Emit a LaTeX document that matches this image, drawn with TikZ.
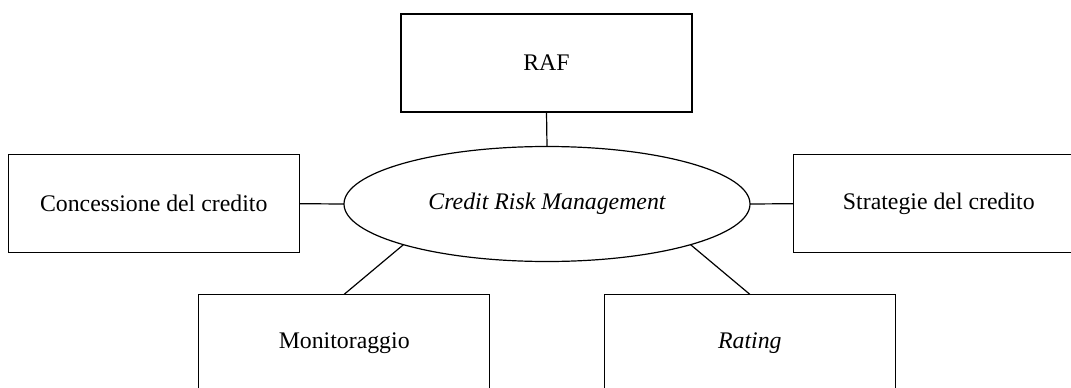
\documentclass[tikz,border=0pt]{standalone}
\usepackage{fontspec}
\setmainfont{Liberation Serif}
\usetikzlibrary{shapes.geometric}
\tikzset{
  box/.style={draw, line width=1.2pt, minimum width=291pt, minimum height=98pt,
    inner sep=0pt, outer sep=0pt, font=\fontsize{23.8}{28}\selectfont},
  hub/.style={draw, ellipse, line width=1.2pt, minimum width=406pt, minimum height=115pt,
    inner sep=0pt, outer sep=0pt, font=\fontsize{23.8}{28}\selectfont\itshape},
  link/.style={line width=1.2pt}
}
\begin{document}
\begin{tikzpicture}[x=1pt, y=-1pt]
  \useasboundingbox (0,0) rectangle (1071,388);
  \clip (0,0) rectangle (1071,388);
  \node[hub] (crm) at (547,204) {Credit Risk Management};
  \node[box] (raf) at (546.5,63) {RAF};
  \node[box] (con) at (153.7,203.7) {Concessione del credito};
  \node[box] (str) at (938.8,203.7) {Strategie del credito};
  \node[box] (mon) at (344.2,343.3) {Monitoraggio};
  \node[box] (rat) at (749.8,343.3) {\itshape Rating};
  \draw[link] (raf.south) -- (crm.north);
  \draw[link] (con.east) -- (crm.west);
  \draw[link] (str.west) -- (crm.east);
  \draw[link] (mon.north) -- (crm.south west);
  \draw[link] (rat.north) -- (crm.south east);
\end{tikzpicture}
\end{document}
